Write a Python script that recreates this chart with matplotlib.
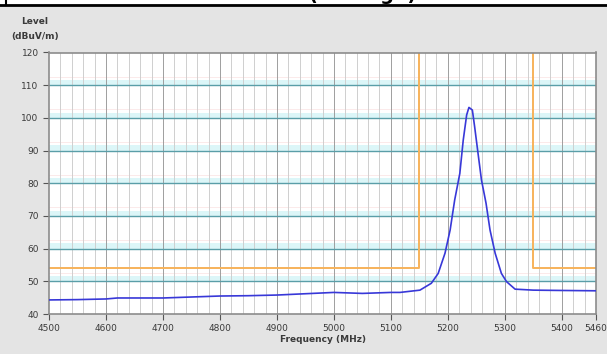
import matplotlib
matplotlib.use("Agg")
import matplotlib.pyplot as plt
import numpy as np

# Trace (MHz, dBuV/m)
freq = [4500, 4550, 4600, 4620, 4650, 4700, 4750, 4800, 4850, 4900, 4950,
        5000, 5050, 5100, 5116, 5151, 5171, 5183, 5195, 5204, 5212, 5221,
        5227, 5233, 5237, 5243, 5247, 5253, 5259, 5267, 5274, 5283, 5294,
        5303, 5318, 5350, 5400, 5460]
level = [44.3, 44.4, 44.6, 44.9, 44.9, 44.9, 45.2, 45.5, 45.6, 45.8, 46.2,
         46.6, 46.3, 46.6, 46.6, 47.3, 49.4, 52.4, 58.6, 65.7, 74.9, 83.0,
         93.2, 100.9, 103.2, 102.4, 97.3, 89.1, 81.0, 73.9, 65.7, 58.6, 52.4,
         49.9, 47.6, 47.3, 47.2, 47.1]

# Limit line (two segments)
limit_left_f = [4500, 5150, 5150]
limit_left_v = [54, 54, 120]
limit_right_f = [5350, 5350, 5460]
limit_right_v = [120, 54, 54]

xticks = [4500, 4600, 4700, 4800, 4900, 5000, 5100, 5200, 5300, 5400, 5460]
yticks = [40, 50, 60, 70, 80, 90, 100, 110, 120]

fig = plt.figure(figsize=(6.07, 3.54), dpi=100, facecolor="#e4e4e4")
ax = fig.add_axes([49 / 607, 1 - 314 / 354, 547 / 607, 261.5 / 354])
ax.set_facecolor("white")

ax.set_xlim(4500, 5460)
ax.set_ylim(40, 120)

# grid
for f in np.arange(4520, 5460, 20):
    c = "#9e9e9e" if f % 100 == 0 else "#cfcfcf"
    ax.axvline(f, color=c, lw=0.7, zorder=1)
for v in range(50, 120, 10):
    ax.axhspan(v, v + 1.6, color="#dcf6f8", lw=0, zorder=0.5)
    ax.axhline(v + 2.6, color="#fbe6e6", lw=0.6, zorder=0.6)
    ax.axhline(v, color="#5a9ea8", lw=1.0, zorder=1.2)

ax.plot(limit_left_f, limit_left_v, color="#f7b25a", lw=1.4, zorder=2)
ax.plot(limit_right_f, limit_right_v, color="#f7b25a", lw=1.4, zorder=2)
ax.plot(freq, level, color="#3838d8", lw=1.2, zorder=3)

ax.set_xticks(xticks)
ax.set_yticks(yticks)
ax.tick_params(axis="both", labelsize=6.5, colors="#555555", labelcolor="#3a3a3a",
               length=4, width=0.8)
ax.tick_params(axis="x", pad=3)
for s in ax.spines.values():
    s.set_color("#8c8c8c")
    s.set_linewidth(1.2)

ax.set_xlabel("Frequency (MHz)", fontsize=6.5, fontweight="bold", color="#3a3a3a",
              labelpad=2)
fig.text(35 / 607, 1 - 22 / 354, "Level", fontsize=6.5, fontweight="bold",
         color="#3a3a3a", ha="center", va="center")
fig.text(35 / 607, 1 - 36 / 354, "(dBuV/m)", fontsize=6.5, fontweight="bold",
         color="#3a3a3a", ha="center", va="center")

# cropped header of the page above the chart (only its bottom edge shows)
fig.patches.append(plt.Rectangle((0, 1 - 4 / 354), 1, 4 / 354, transform=fig.transFigure,
                                 facecolor="white", edgecolor="none"))
fig.lines.append(plt.Line2D([0, 1], [1 - 4.5 / 354] * 2, transform=fig.transFigure,
                            color="black", lw=2))
fig.lines.append(plt.Line2D([6 / 607] * 2, [1 - 4.5 / 354, 1], transform=fig.transFigure,
                            color="black", lw=1.5))
fig.text(362 / 607, 1 + 0.5 / 354, "(Average)", fontsize=14, fontweight="bold",
         color="black", ha="center", va="baseline")

fig.savefig("out.png", dpi=100, facecolor=fig.get_facecolor())
